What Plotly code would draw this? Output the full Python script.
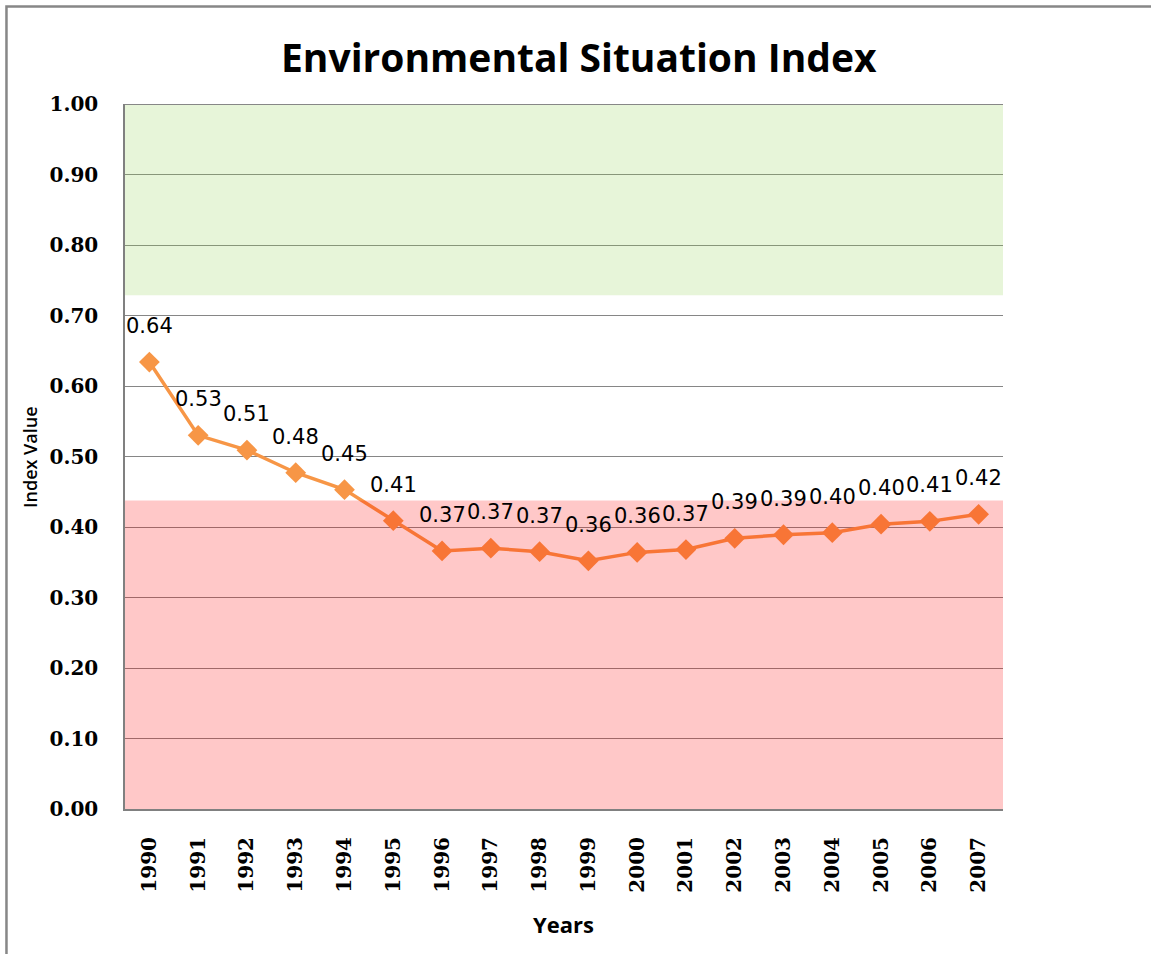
import plotly.graph_objects as go

years = ["1990", "1991", "1992", "1993", "1994", "1995", "1996", "1997", "1998",
         "1999", "2000", "2001", "2002", "2003", "2004", "2005", "2006", "2007"]
index_values = [0.634, 0.530, 0.509, 0.477, 0.453, 0.409, 0.366, 0.370, 0.365,
                0.352, 0.364, 0.368, 0.384, 0.389, 0.392, 0.404, 0.408, 0.418]
value_labels = ["0.64", "0.53", "0.51", "0.48", "0.45", "0.41", "0.37", "0.37", "0.37",
                "0.36", "0.36", "0.37", "0.39", "0.39", "0.40", "0.40", "0.41", "0.42"]
y_ticks = [0.0, 0.1, 0.2, 0.3, 0.4, 0.5, 0.6, 0.7, 0.8, 0.9, 1.0]

good_band = (0.7287, 1.0)
bad_band = (0.0, 0.4375)

ORANGE = "#F79646"
GRID = "#868686"
serif_bold = dict(family="DejaVu Serif", size=20, color="black", weight="bold")

fig = go.Figure()
fig.add_trace(go.Scatter(
    x=years, y=index_values, mode="lines+markers",
    line=dict(color=ORANGE, width=3.5),
    marker=dict(symbol="diamond", size=16, color=ORANGE),
    hoverinfo="skip", showlegend=False,
))

annotations = []
for i, (v, lab) in enumerate(zip(index_values, value_labels)):
    annotations.append(dict(
        x=i, y=v, xref="x", yref="y", text=lab, showarrow=False,
        yshift=36, xanchor="center", yanchor="middle",
        font=dict(family="DejaVu Sans", size=21, color="black"),
    ))

annotations += [
    dict(text="<b>Environmental Situation Index</b>", xref="paper", yref="paper",
         x=0.517, y=1.0667, xanchor="center", yanchor="middle", showarrow=False,
         font=dict(family="Open Sans", size=39, color="black")),
    dict(text="Index Value", xref="paper", yref="paper", x=-0.1082, y=0.4993,
         xanchor="center", yanchor="middle", textangle=-90, showarrow=False,
         font=dict(family="Open Sans", size=18, color="black", weight=600)),
    dict(text="<b>Years</b>", xref="paper", yref="paper", x=0.499, y=-0.163,
         xanchor="center", yanchor="middle", showarrow=False,
         font=dict(family="Open Sans", size=22, color="black")),
]

shapes = [
    dict(type="rect", xref="paper", yref="y", x0=0, x1=1,
         y0=good_band[0], y1=good_band[1], fillcolor="rgba(146,208,80,0.22)",
         line=dict(width=0), layer="above"),
    dict(type="rect", xref="paper", yref="y", x0=0, x1=1,
         y0=bad_band[0], y1=bad_band[1], fillcolor="rgba(255,0,0,0.215)",
         line=dict(width=0), layer="above"),
    # top edge line of the plot area (the 1.00 gridline)
    dict(type="line", xref="paper", yref="y", x0=0, x1=1, y0=1.0, y1=1.0,
         line=dict(color="#878787", width=2), layer="above"),
    # outer chart frame
    dict(type="rect", xref="paper", yref="paper", x0=-0.135, x1=1.2,
         y0=-0.25, y1=1.1383, fillcolor="rgba(0,0,0,0)",
         line=dict(color="#878787", width=2.5), layer="above"),
]

fig.update_layout(
    width=1151, height=954, autosize=False,
    margin=dict(l=125, r=148, t=104, b=145),
    paper_bgcolor="white", plot_bgcolor="white",
    annotations=annotations, shapes=shapes,
    xaxis=dict(type="category", range=[-0.5, len(years) - 0.5],
               showgrid=False, showline=True, linecolor="#808080", linewidth=2,
               tickangle=-90, ticks="", ticklabelstandoff=18,
               tickfont=serif_bold, zeroline=False),
    yaxis=dict(range=[0, 1], tickvals=y_ticks, tickformat=".2f",
               showgrid=True, gridcolor=GRID, gridwidth=1,
               showline=True, linecolor="#808080", linewidth=1.5,
               ticks="", ticklabelstandoff=21, tickfont=serif_bold,
               zeroline=False),
)

fig.write_html("out.html", config={"displayModeBar": False},
               post_script="document.body.style.margin='0';")
